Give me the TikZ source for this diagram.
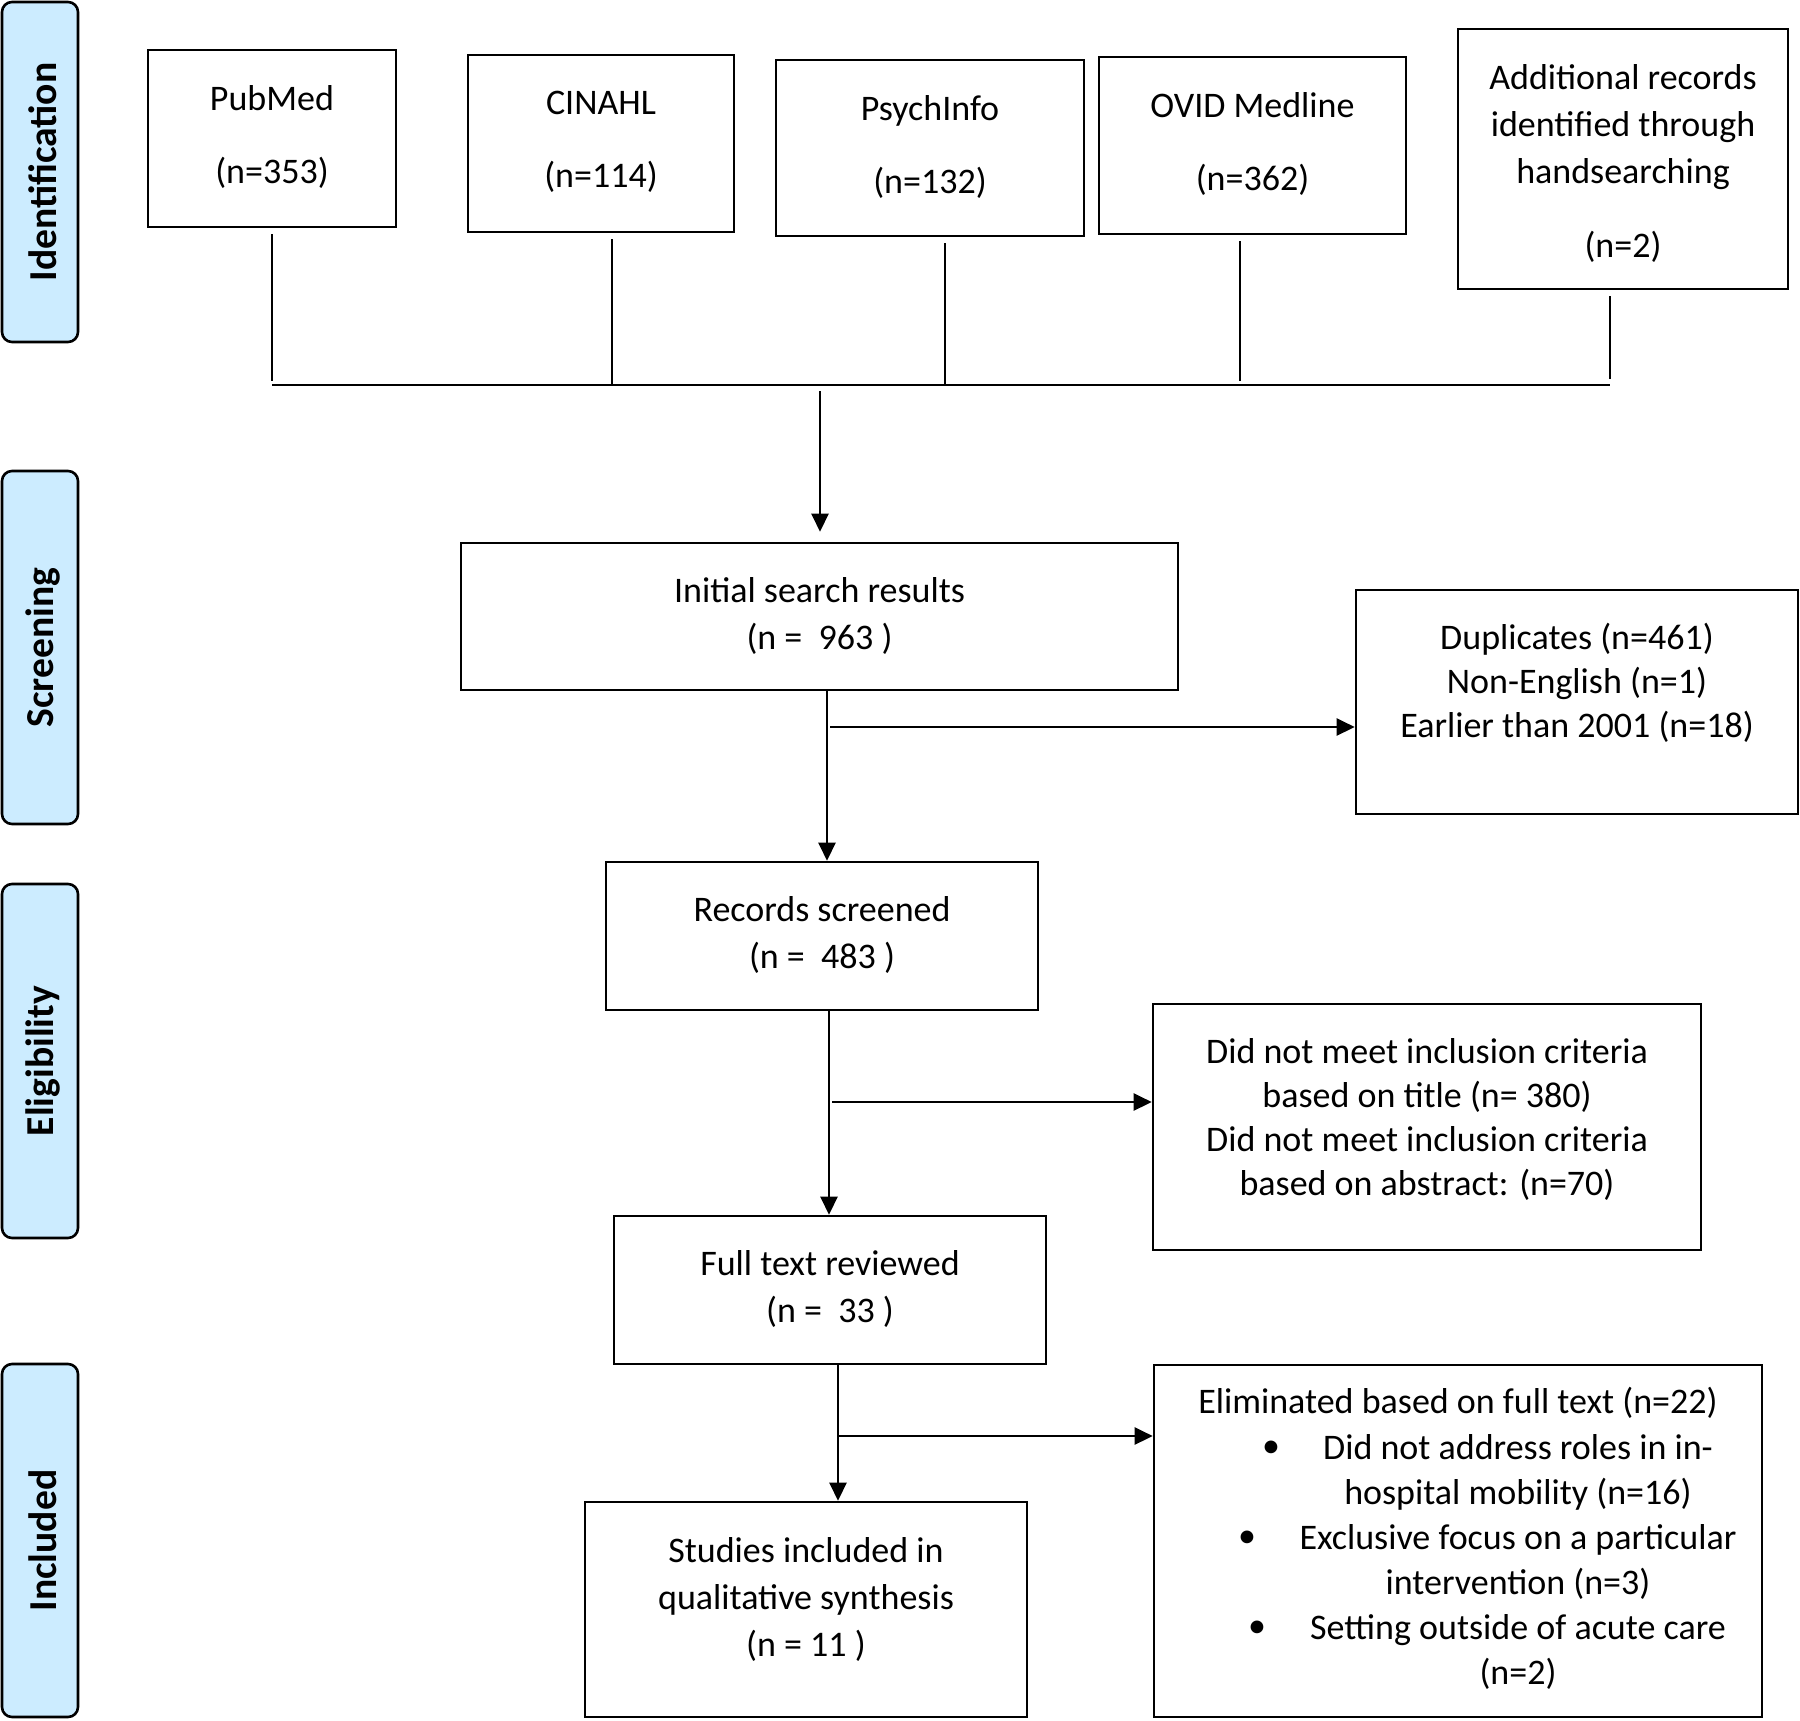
\documentclass[tikz,border=0pt]{standalone}
\usepackage{fontspec}
\setmainfont{Carlito}
\usetikzlibrary{arrows.meta}
\definecolor{sideblue}{RGB}{204,236,255}
\tikzset{
  x=0.5pt, y=-0.5pt,
  box/.style={draw=black, line width=1.3pt, inner sep=0pt},
  side/.style={draw=black, line width=1.3pt, fill=sideblue, rounded corners=5pt, inner sep=0pt, minimum width=38pt},
  sidetext/.style={rotate=90, font=\fontsize{19.8}{22}\selectfont\bfseries},
  txt/.style={align=center, inner sep=0pt, font=\fontsize{18}{22}\selectfont},
  conn/.style={line width=1.2pt},
  arr/.style={line width=1.2pt, -{Triangle[length=9pt,width=8.5pt]}},
}
\begin{document}
\begin{tikzpicture}
\useasboundingbox (0,0) rectangle (1800,1720);

% side phase boxes
\node[side, minimum height=170pt] (sid) at (40,172) {};
\node[sidetext] (tid) at (43,172) {Identification};
\node[side, minimum height=176.5pt] (ssc) at (40,647.5) {};
\node[sidetext] (tsc) at (43,647.5) {Screening};
\node[side, minimum height=177pt] (sel) at (40,1061) {};
\node[sidetext] (tel) at (43,1061) {Eligibility};
\node[side, minimum height=176.5pt] (sin) at (40,1540.5) {};
\node[sidetext] (tin) at (43,1540.5) {Included};

% top boxes
\node[box, minimum width=124pt, minimum height=88.5pt] (pub) at (272,138.5) {};
\node[txt] (tpub) at (272,136.5) {PubMed\\[14.5pt](n=353)};
\node[box, minimum width=133pt, minimum height=88.5pt] (cin) at (601,143.5) {};
\node[txt] (tcin) at (601,142) {CINAHL\\[14.5pt](n=114)};
\node[box, minimum width=154pt, minimum height=88pt] (psy) at (930,148) {};
\node[txt] (tpsy) at (930,147) {PsychInfo\\[14.5pt](n=132)};
\node[box, minimum width=153.5pt, minimum height=88.5pt] (ovid) at (1252.5,145.5) {};
\node[txt] (tovid) at (1252.5,144) {OVID Medline\\[14.5pt](n=362)};
\node[box, minimum width=165pt, minimum height=130pt] (add) at (1623,159) {};
\node[txt, font=\fontsize{18}{23.5}\selectfont] (tadd) at (1623,163) {Additional records\\identified through\\handsearching\\[13.5pt](n=2)};

% junction
\coordinate (j1) at (272,385);
\coordinate (j2) at (612,385);
\coordinate (j3) at (945,385);
\coordinate (j4) at (1240,385);
\coordinate (j5) at (1610,385);
\coordinate (hub) at (820,391);
\draw[conn, shorten <=3pt] (pub.south -| j1) -- ([yshift=2pt]j1);
\draw[conn, shorten <=3pt] (cin.south -| j2) -- (j2);
\draw[conn, shorten <=3pt] (psy.south -| j3) -- (j3);
\draw[conn, shorten <=3pt] (ovid.south -| j4) -- ([yshift=2pt]j4);
\draw[conn, shorten <=3pt] (add.south -| j5) -- ([yshift=3pt]j5);
\draw[conn] (j1) -- (j5);

% main column
\node[box, minimum width=358.5pt, minimum height=73.5pt] (init) at (819.5,616.5) {};
\node[txt, font=\fontsize{18}{23.5}\selectfont] (tinit) at (819.5,615.5) {Initial search results\\(n =\ \ 963 )};
\draw[arr, shorten >=5pt] (hub) -- (init.north -| hub);

\node[box, minimum width=221pt, minimum height=112pt] (dup) at (1577,702) {};
\node[txt] (tdup) at (1577,683) {Duplicates (n=461)\\Non-English (n=1)\\Earlier than 2001 (n=18)};

\node[box, minimum width=216pt, minimum height=74pt] (rec) at (822,936) {};
\node[txt, font=\fontsize{18}{23.5}\selectfont] (trec) at (822,935) {Records screened\\(n =\ \ 483 )};

\coordinate (c1) at (827,690);
\coordinate (b1) at (830,727);
\draw[arr] (init.south -| c1) -- (rec.north -| c1);
\draw[arr] (b1) -- (dup.west |- b1);

\node[box, minimum width=274pt, minimum height=123pt] (dnm) at (1427,1127) {};
\node[txt] (tdnm) at (1427,1119) {Did not meet inclusion criteria\\based on title (n= 380)\\Did not meet inclusion criteria\\based on abstract: (n=70)};

\node[box, minimum width=216pt, minimum height=74pt] (full) at (830,1290) {};
\node[txt, font=\fontsize{18}{23.5}\selectfont] (tfull) at (830,1289) {Full text reviewed\\(n =\ \ 33 )};

\coordinate (c2) at (829,1010);
\coordinate (b2) at (832,1102);
\draw[arr] (rec.south -| c2) -- (full.north -| c2);
\draw[arr] (b2) -- (dnm.west |- b2);

\node[box, minimum width=304pt, minimum height=176pt] (elim) at (1458,1541) {};
\node[txt] (telim) at (1458,1403) {Eliminated based on full text (n=22)};
\node[txt, font=\fontsize{18}{22.5}\selectfont] (telimb) at (1518,1561.5) {Did not address roles in in-\\hospital mobility (n=16)\\Exclusive focus on a particular\\intervention (n=3)\\Setting outside of acute care\\(n=2)};
\node[txt] (bul1) at (1271,1449) {•};
\node[txt] (bul2) at (1247,1539) {•};
\node[txt] (bul3) at (1257,1629) {•};

\node[box, minimum width=221pt, minimum height=107.5pt] (stud) at (806,1609.5) {};
\node[txt, font=\fontsize{18}{23.5}\selectfont] (tstud) at (806,1599) {Studies included in\\qualitative synthesis\\(n = 11 )};

\coordinate (c3) at (838,1364);
\coordinate (b3) at (839,1436);
\draw[arr] (full.south -| c3) -- (stud.north -| c3);
\draw[arr] (b3) -- (elim.west |- b3);

\end{tikzpicture}
\end{document}
